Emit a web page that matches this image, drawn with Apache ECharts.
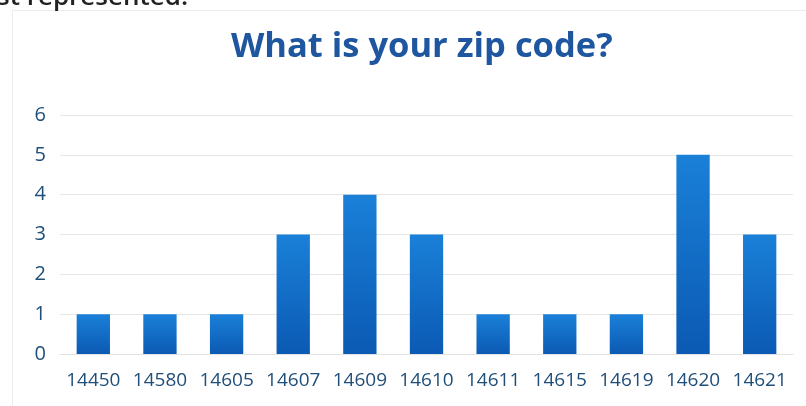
<!DOCTYPE html>
<html><head><meta charset="utf-8">
<script src="https://cdn.jsdelivr.net/npm/echarts@6/dist/echarts.min.js"></script>
<style>html,body{margin:0;padding:0;background:#fff}#c{width:806px;height:406px}</style>
</head><body><div id="c"></div>
<script>
const zipCodes = ['14450','14580','14605','14607','14609','14610','14611','14615','14619','14620','14621'];
const counts = [1,1,1,3,4,3,1,1,1,5,3];
const yTicks = [0,1,2,3,4,5,6];

const chart = echarts.init(document.getElementById('c'));
chart.setOption({
  animation:false,
  backgroundColor:'#fff',
  title:{
    text:'What is your zip code?',
    left:226, top:25,
    textStyle:{fontFamily:'Open Sans', fontWeight:'bold', fontSize:34.5, color:'#1f56a0'}
  },
  graphic:[
    {type:'rect', shape:{x:12.5,y:10.5,width:800,height:400}, style:{fill:'none', stroke:'#ececec', lineWidth:1}, silent:true},
    {type:'text', x:-3, y:-15, style:{text:'st represented.', font:'600 26px "Open Sans"', fill:'#222', verticalAlign:'top'}}
  ],
  grid:{left:60, right:13, top:115, bottom:52},
  xAxis:{
    type:'category', data:zipCodes,
    axisLine:{show:true, lineStyle:{color:'#e2e2e2'}}, axisTick:{show:false},
    axisLabel:{fontFamily:'Open Sans', fontSize:19, color:'#1f4e79', margin:17, interval:0}
  },
  yAxis:{
    type:'value', min:0, max:6, interval:1,
    axisLine:{show:false}, axisTick:{show:false},
    splitLine:{lineStyle:{color:'#e6e6e6'}},
    axisLabel:{fontFamily:'Open Sans', fontSize:20, color:'#1f4e79', margin:14,
      formatter:v=>yTicks.includes(v)?String(v):''}
  },
  series:[{
    type:'bar', data:counts, barWidth:'50%',
    itemStyle:{color:new echarts.graphic.LinearGradient(0,0,0,1,[
      {offset:0,color:'#1a80d8'},{offset:1,color:'#0b5ab3'}])}
  }]
});
</script></body></html>
